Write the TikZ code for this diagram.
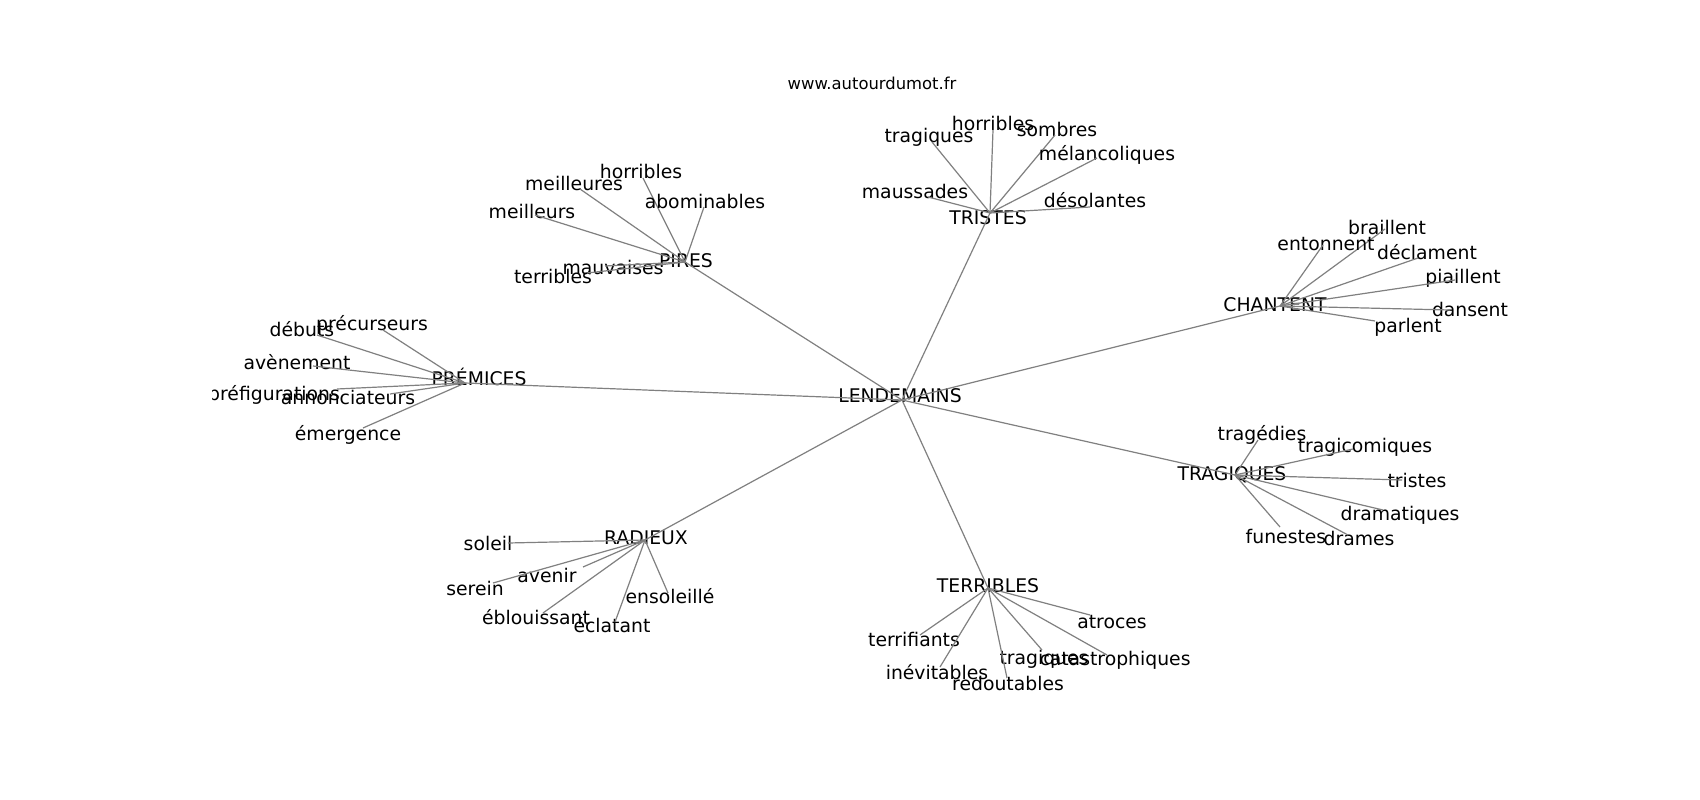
\documentclass[tikz,border=0pt]{standalone}
\usepackage{fontspec}
\setmainfont{DejaVu Sans}
\tikzset{
  word/.style={inner sep=0pt, text height=0.74em, text depth=0pt, anchor=center, yshift=-4pt, font=\fontsize{18.8}{22}\selectfont, text=black},
  edge/.style={draw=edgegray, line width=1.2pt},
  titletext/.style={inner sep=0pt, text height=0.74em, text depth=0pt, yshift=-3pt, font=\fontsize{16.4}{19}\selectfont}
}
\definecolor{edgegray}{HTML}{808080}
\newcommand\wleaf[7]{\coordinate (#2p) at (#6,#7); \node[word] (#2) at (#4,#5) {#3}; \draw[edge] (#1p) -- (#2p);}
\newcommand\whub[6]{\coordinate (#1p) at (#5,#6); \node[word] (#1) at (#3,#4) {#2};}
\begin{document}
\begin{tikzpicture}[x=1pt,y=-1pt]
\useasboundingbox (0,0) rectangle (1700,800);
\fill[white] (0,0) rectangle (1700,800);
\node[titletext] (title) at (872,83) {www.autourdumot.fr};
\begin{scope}
\clip (212,0) rectangle (1700,800);
\whub{cen}{LENDEMAINS}{900}{395}{902}{400}
\whub{pir}{PIRES}{686}{260}{685}{262}
\whub{tri}{TRISTES}{988}{217}{990}{213}
\whub{cha}{CHANTENT}{1275}{304}{1280}{306}
\whub{pre}{PRÉMICES}{479}{378}{465}{383}
\whub{tra}{TRAGIQUES}{1232}{473}{1235}{475}
\whub{ter}{TERRIBLES}{988}{585}{988}{588}
\whub{rad}{RADIEUX}{646}{537}{645}{540}
\foreach \h in {pir,tri,cha,pre,tra,ter,rad} {\draw[edge] (cenp) -- (\h p);}
% PIRES
\wleaf{pir}{pa}{horribles}{641}{171}{643}{178}
\wleaf{pir}{pb}{meilleures}{574}{183}{580}{189}
\wleaf{pir}{pc}{abominables}{705}{201}{704}{207}
\wleaf{pir}{pd}{meilleurs}{532}{211}{535}{215}
\wleaf{pir}{pe}{mauvaises}{613}{267}{605}{266}
\wleaf{pir}{pf}{terribles}{553}{276}{587}{273}
% TRISTES
\wleaf{tri}{ta}{horribles}{993}{123}{993}{130}
\wleaf{tri}{tb}{tragiques}{929}{135}{932}{142}
\wleaf{tri}{tc}{sombres}{1057}{129}{1055}{135}
\wleaf{tri}{td}{mélancoliques}{1107}{153}{1097}{158}
\wleaf{tri}{te}{maussades}{915}{191}{928}{197}
\wleaf{tri}{tf}{désolantes}{1095}{200}{1090}{207}
% CHANTENT
\wleaf{cha}{ca}{braillent}{1387}{227}{1385}{229}
\wleaf{cha}{cb}{entonnent}{1326}{243}{1323}{245}
\wleaf{cha}{cc}{déclament}{1427}{252}{1418}{258}
\wleaf{cha}{cd}{piaillent}{1463}{276}{1455}{280}
\wleaf{cha}{ce}{dansent}{1470}{309}{1450}{310}
\wleaf{cha}{cf}{parlent}{1408}{325}{1375}{321}
% PREMICES
\wleaf{pre}{ra}{précurseurs}{372}{323}{383}{330}
\wleaf{pre}{rb}{débuts}{302}{329}{317}{335}
\wleaf{pre}{rc}{avènement}{297}{362}{313}{366}
\wleaf{pre}{rd}{préfigurations}{274}{393}{337}{389}
\wleaf{pre}{re}{annonciateurs}{348}{397}{390}{394}
\wleaf{pre}{rf}{émergence}{348}{433}{363}{428}
% TRAGIQUES
\wleaf{tra}{ga}{tragédies}{1262}{433}{1258}{440}
\wleaf{tra}{gb}{tragicomiques}{1365}{445}{1353}{449}
\wleaf{tra}{gc}{tristes}{1417}{480}{1402}{480}
\wleaf{tra}{gd}{dramatiques}{1400}{513}{1383}{510}
\wleaf{tra}{ge}{funestes}{1286}{536}{1280}{527}
\wleaf{tra}{gf}{drames}{1359}{538}{1348}{535}
% TERRIBLES
\wleaf{ter}{ea}{atroces}{1112}{621}{1090}{615}
\wleaf{ter}{eb}{terrifiants}{914}{639}{920}{635}
\wleaf{ter}{ec}{inévitables}{937}{672}{940}{667}
\wleaf{ter}{ed}{tragiques}{1044}{657}{1042}{650}
\wleaf{ter}{ee}{catastrophiques}{1115}{658}{1107}{655}
\wleaf{ter}{ef}{redoutables}{1008}{683}{1007}{678}
% RADIEUX
\wleaf{rad}{da}{soleil}{488}{543}{508}{543}
\wleaf{rad}{db}{avenir}{547}{575}{583}{567}
\wleaf{rad}{dc}{serein}{475}{588}{493}{583}
\wleaf{rad}{dd}{ensoleillé}{670}{596}{668}{593}
\wleaf{rad}{de}{éblouissant}{536}{617}{543}{613}
\wleaf{rad}{df}{éclatant}{612}{625}{615}{622}
\end{scope}
\end{tikzpicture}
\end{document}
